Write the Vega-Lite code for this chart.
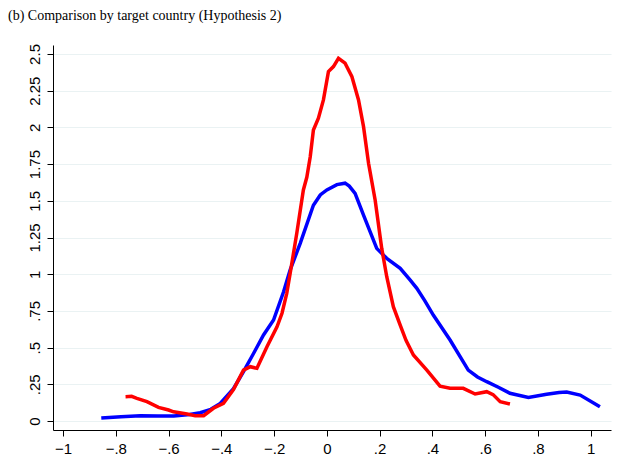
{
  "$schema": "https://vega.github.io/schema/vega-lite/v6.json",
  "autosize": {"type": "none"},
  "width": 558,
  "height": 385,
  "padding": {"left": 53, "top": 45, "right": 8, "bottom": 41},
  "background": "white",
  "title": {
    "text": "(b) Comparison by target country (Hypothesis 2)",
    "anchor": "start",
    "frame": "group",
    "dx": -45,
    "offset": 21,
    "font": "Liberation Serif",
    "fontSize": 14,
    "fontWeight": "normal",
    "color": "black"
  },
  "config": {
    "view": {"stroke": null},
    "axis": {
      "labelFont": "Liberation Sans",
      "labelFontSize": 15,
      "labelColor": "black",
      "domainColor": "black",
      "tickColor": "black",
      "tickSize": 6,
      "labelPadding": 5,
      "title": null
    }
  },
  "data": {
    "values": [
      {"series": "A", "x": -0.855, "y": 0.02},
      {"series": "A", "x": -0.78, "y": 0.03},
      {"series": "A", "x": -0.707, "y": 0.036},
      {"series": "A", "x": -0.64, "y": 0.035},
      {"series": "A", "x": -0.58, "y": 0.034},
      {"series": "A", "x": -0.52, "y": 0.045},
      {"series": "A", "x": -0.48, "y": 0.057},
      {"series": "A", "x": -0.44, "y": 0.08},
      {"series": "A", "x": -0.404, "y": 0.12},
      {"series": "A", "x": -0.354, "y": 0.22},
      {"series": "A", "x": -0.316, "y": 0.336},
      {"series": "A", "x": -0.278, "y": 0.46},
      {"series": "A", "x": -0.24, "y": 0.586},
      {"series": "A", "x": -0.202, "y": 0.688},
      {"series": "A", "x": -0.164, "y": 0.88},
      {"series": "A", "x": -0.139, "y": 1.03},
      {"series": "A", "x": -0.101, "y": 1.21},
      {"series": "A", "x": -0.051, "y": 1.47},
      {"series": "A", "x": -0.025, "y": 1.54},
      {"series": "A", "x": 0.0, "y": 1.574},
      {"series": "A", "x": 0.038, "y": 1.61},
      {"series": "A", "x": 0.069, "y": 1.62},
      {"series": "A", "x": 0.085, "y": 1.6},
      {"series": "A", "x": 0.107, "y": 1.55},
      {"series": "A", "x": 0.139, "y": 1.403},
      {"series": "A", "x": 0.189, "y": 1.176},
      {"series": "A", "x": 0.227, "y": 1.108},
      {"series": "A", "x": 0.278, "y": 1.04},
      {"series": "A", "x": 0.316, "y": 0.96},
      {"series": "A", "x": 0.341, "y": 0.904},
      {"series": "A", "x": 0.371, "y": 0.82},
      {"series": "A", "x": 0.404, "y": 0.72},
      {"series": "A", "x": 0.467, "y": 0.552},
      {"series": "A", "x": 0.536, "y": 0.347},
      {"series": "A", "x": 0.571, "y": 0.3},
      {"series": "A", "x": 0.606, "y": 0.268},
      {"series": "A", "x": 0.65, "y": 0.23},
      {"series": "A", "x": 0.694, "y": 0.189},
      {"series": "A", "x": 0.764, "y": 0.161},
      {"series": "A", "x": 0.833, "y": 0.182},
      {"series": "A", "x": 0.88, "y": 0.195},
      {"series": "A", "x": 0.909, "y": 0.198},
      {"series": "A", "x": 0.96, "y": 0.177},
      {"series": "A", "x": 1.035, "y": 0.097},
      {"series": "B", "x": -0.763, "y": 0.166},
      {"series": "B", "x": -0.74, "y": 0.168},
      {"series": "B", "x": -0.72, "y": 0.155},
      {"series": "B", "x": -0.682, "y": 0.132},
      {"series": "B", "x": -0.638, "y": 0.093},
      {"series": "B", "x": -0.6, "y": 0.075},
      {"series": "B", "x": -0.581, "y": 0.063},
      {"series": "B", "x": -0.53, "y": 0.048},
      {"series": "B", "x": -0.499, "y": 0.036},
      {"series": "B", "x": -0.467, "y": 0.036},
      {"series": "B", "x": -0.43, "y": 0.087},
      {"series": "B", "x": -0.392, "y": 0.12},
      {"series": "B", "x": -0.354, "y": 0.215},
      {"series": "B", "x": -0.316, "y": 0.347},
      {"series": "B", "x": -0.29, "y": 0.37},
      {"series": "B", "x": -0.265, "y": 0.359},
      {"series": "B", "x": -0.227, "y": 0.506},
      {"series": "B", "x": -0.189, "y": 0.642},
      {"series": "B", "x": -0.17, "y": 0.734},
      {"series": "B", "x": -0.152, "y": 0.87},
      {"series": "B", "x": -0.139, "y": 1.006},
      {"series": "B", "x": -0.114, "y": 1.279},
      {"series": "B", "x": -0.089, "y": 1.574},
      {"series": "B", "x": -0.076, "y": 1.66},
      {"series": "B", "x": -0.063, "y": 1.8},
      {"series": "B", "x": -0.051, "y": 1.982},
      {"series": "B", "x": -0.032, "y": 2.062},
      {"series": "B", "x": -0.013, "y": 2.187},
      {"series": "B", "x": 0.006, "y": 2.38},
      {"series": "B", "x": 0.025, "y": 2.414},
      {"series": "B", "x": 0.044, "y": 2.47},
      {"series": "B", "x": 0.069, "y": 2.437},
      {"series": "B", "x": 0.095, "y": 2.345},
      {"series": "B", "x": 0.12, "y": 2.187},
      {"series": "B", "x": 0.139, "y": 2.005},
      {"series": "B", "x": 0.158, "y": 1.755},
      {"series": "B", "x": 0.183, "y": 1.505},
      {"series": "B", "x": 0.208, "y": 1.176},
      {"series": "B", "x": 0.227, "y": 0.983},
      {"series": "B", "x": 0.252, "y": 0.779},
      {"series": "B", "x": 0.278, "y": 0.654},
      {"series": "B", "x": 0.3, "y": 0.55},
      {"series": "B", "x": 0.328, "y": 0.45},
      {"series": "B", "x": 0.379, "y": 0.347},
      {"series": "B", "x": 0.429, "y": 0.238},
      {"series": "B", "x": 0.467, "y": 0.223},
      {"series": "B", "x": 0.517, "y": 0.223},
      {"series": "B", "x": 0.562, "y": 0.184},
      {"series": "B", "x": 0.606, "y": 0.2},
      {"series": "B", "x": 0.63, "y": 0.18},
      {"series": "B", "x": 0.657, "y": 0.132},
      {"series": "B", "x": 0.694, "y": 0.116}
    ]
  },
  "mark": {"type": "line", "strokeWidth": 3.5, "interpolate": "linear"},
  "encoding": {
    "x": {
      "field": "x",
      "type": "quantitative",
      "scale": {"domain": [-1.038, 1.077], "nice": false, "zero": false},
      "axis": {
        "values": [-1, -0.8, -0.6, -0.4, -0.2, 0, 0.2, 0.4, 0.6, 0.8, 1],
        "labelExpr": "replace(format(datum.value, '.2~f'), '0.', '.')",
        "grid": false
      }
    },
    "y": {
      "field": "y",
      "type": "quantitative",
      "scale": {"domain": [-0.061, 2.561], "nice": false, "zero": false},
      "axis": {
        "values": [0, 0.25, 0.5, 0.75, 1, 1.25, 1.5, 1.75, 2, 2.25, 2.5],
        "labelExpr": "replace(format(datum.value, '.2~f'), '0.', '.')",
        "labelAngle": 270,
        "grid": true,
        "gridColor": "#eaf2f3",
        "gridWidth": 1.2
      }
    },
    "color": {
      "field": "series",
      "type": "nominal",
      "scale": {"domain": ["A", "B"], "range": ["#0000ff", "#ff0000"]},
      "legend": null
    },
    "order": {"field": "x", "type": "quantitative"}
  }
}
